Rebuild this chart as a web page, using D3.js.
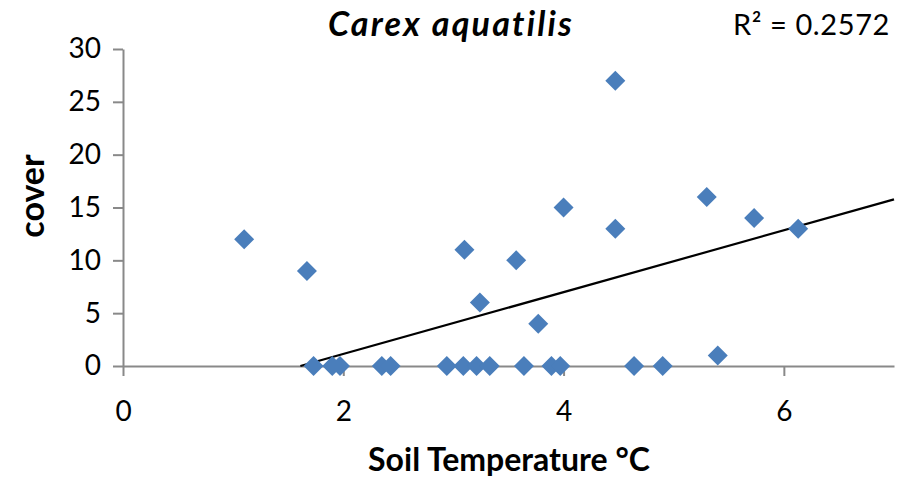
<!DOCTYPE html>
<html>
<head>
<meta charset="utf-8">
<script src="https://cdn.jsdelivr.net/npm/d3@7"></script>
<style>
  body { margin: 0; background: #fff; }
  svg { display: block; font-family: Lato, "Open Sans", sans-serif; }
</style>
</head>
<body>
<svg width="914" height="481"></svg>
<script>
// dados
var soilTemp = [1.10, 1.67, 1.73, 1.90, 1.97, 2.35, 2.43, 2.94, 3.09, 3.10, 3.21, 3.24, 3.33,
                3.57, 3.64, 3.77, 3.89, 3.97, 4.00, 4.47, 4.47, 4.64, 4.90, 5.30, 5.40, 5.73, 6.13];
var cover    = [12, 9, 0, 0, 0, 0, 0, 0, 0, 11, 0, 6, 0,
                10, 0, 4, 0, 0, 15, 27, 13, 0, 0, 16, 1, 14, 13];
var xTicks = [0, 2, 4, 6];
var yTicks = [0, 5, 10, 15, 20, 25, 30];
var trendSlope = 2.925, trendIntercept = -4.71;
var r2Label = "R² = 0.2572";

var data = soilTemp.map(function(t, i) { return {t: t, c: cover[i]}; });

var margin = {top: 49, right: 20, bottom: 115, left: 123},
    width = 914 - margin.left - margin.right,
    height = 481 - margin.top - margin.bottom;

var x = d3.scaleLinear().domain([0, 7]).range([0, width]);
var y = d3.scaleLinear().domain([0, 30]).range([height, 0]);

var svg = d3.select("svg");
var g = svg.append("g")
    .attr("transform", "translate(" + margin.left + "," + margin.top + ")");

// eixo y
var yAxis = g.append("g")
    .call(d3.axisLeft(y).tickValues(yTicks).tickFormat(d3.format("d"))
      .tickSize(10).tickPadding(22).tickSizeOuter(0));
// eixo x
var xAxis = g.append("g")
    .attr("transform", "translate(0," + height + ")")
    .call(d3.axisBottom(x).tickValues(xTicks).tickFormat(d3.format("d"))
      .tickSize(10).tickPadding(25).tickSizeOuter(0));

[xAxis, yAxis].forEach(function(a) {
  a.attr("font-size", null).attr("font-family", null);
  a.select(".domain").attr("stroke", "#898989").attr("stroke-width", 2);
  a.selectAll(".tick line").attr("stroke", "#898989").attr("stroke-width", 2);
  a.selectAll(".tick text").attr("fill", "#000").style("font-size", "28px");
});
yAxis.selectAll(".tick text").attr("x", -22);

// linha de tendência (recortada em y >= 0)
var x0 = Math.max(0, -trendIntercept / trendSlope), x1 = 7;
g.append("line")
  .attr("x1", x(x0)).attr("y1", y(trendSlope * x0 + trendIntercept))
  .attr("x2", x(x1)).attr("y2", y(trendSlope * x1 + trendIntercept))
  .attr("stroke", "#000").attr("stroke-width", 2.2);

// pontos (losangos)
var diamond = d3.symbol().type(d3.symbolSquare).size(200);
g.selectAll("path.pt")
  .data(data)
  .enter().append("path")
  .attr("class", "pt")
  .attr("d", diamond)
  .attr("transform", function(d) { return "translate(" + x(d.t) + "," + y(d.c) + ") rotate(45)"; })
  .attr("fill", "#4a7ebb");

// títulos
svg.append("text")
  .attr("x", 451).attr("y", 36)
  .attr("text-anchor", "middle")
  .style("font-size", "34px").style("font-weight", "bold").style("font-style", "italic")
  .style("letter-spacing", "2.2px")
  .text("Carex aquatilis");

svg.append("text")
  .attr("x", 890).attr("y", 35)
  .attr("text-anchor", "end")
  .style("font-size", "29px").style("letter-spacing", "0.6px")
  .text(r2Label);

svg.append("text")
  .attr("x", 509).attr("y", 471)
  .attr("text-anchor", "middle")
  .style("font-size", "32px").style("font-weight", "bold")
  .text("Soil Temperature °C");

svg.append("text")
  .attr("transform", "translate(44,196) rotate(-90)")
  .attr("text-anchor", "middle")
  .style("font-size", "34px").style("font-weight", "bold")
  .text("cover");
</script>
</body>
</html>
